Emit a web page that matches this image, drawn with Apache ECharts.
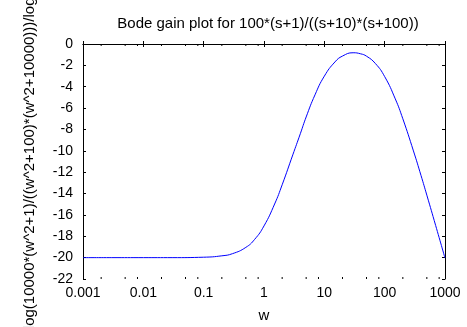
<!DOCTYPE html>
<html>
<head>
<meta charset="utf-8">
<script src="https://cdn.jsdelivr.net/npm/echarts@6/dist/echarts.min.js"></script>
<style>html,body{margin:0;padding:0;background:#fff}#c{width:467px;height:327px}</style>
</head>
<body>
<div id="c"></div>
<script>
// Frequency w (rad/s) and gain (dB)
var wVals = [0.001, 0.003, 0.01, 0.03, 0.1, 0.2, 0.3, 0.5, 0.7, 1, 1.5, 2, 3, 4, 5, 7, 10, 15, 20, 30, 40, 50, 70, 100, 150, 200, 300, 400, 500, 700, 1000];
var gainVals = [-20.0, -20.0, -20.0, -20.0, -19.96, -19.83, -19.63, -19.04, -18.29, -17.03, -14.98, -13.18, -10.38, -8.4, -6.83, -4.76, -3.01, -1.68, -1.13, -0.82, -0.92, -1.14, -1.82, -3.05, -5.14, -7.0, -10.01, -12.3, -14.15, -16.99, -20.04];
var xTicks = [0.001, 0.01, 0.1, 1, 10, 100, 1000];
var xMinorTicks = [0.002, 0.005, 0.008, 0.02, 0.05, 0.08, 0.2, 0.5, 0.8, 2, 5, 8, 20, 50, 80, 200, 500, 800];
var yMin = -22, yMax = 0, yStep = 2;
var titleText = 'Bode gain plot for 100*(s+1)/((s+10)*(s+100))';
var xName = 'w';
var yName = 'log(10000*(w^2+1)/((w^2+100)*(w^2+10000)))/log(10)';

var chart = echarts.init(document.getElementById('c'), null, {renderer: 'canvas'});
var font = 'Liberation Sans';
var axisCommon = {
  axisLine: {show: true, lineStyle: {color: '#000', width: 1}},
  axisTick: {show: true, inside: true, length: 3, lineStyle: {color: '#000', width: 1}},
  splitLine: {show: false}
};
var data = wVals.map(function (w, i) { return [w, gainVals[i]]; });
chart.setOption({
  animation: false,
  backgroundColor: '#fff',
  title: {
    text: titleText, left: 263, top: 11, textAlign: 'center',
    textStyle: {fontFamily: font, fontSize: 15, fontWeight: 'normal', color: '#000'}
  },
  graphic: [{
    type: 'text', x: 30, y: 150, rotation: Math.PI / 2, silent: true,
    style: {text: yName, fontFamily: font, fontSize: 15, fill: '#000', align: 'center', verticalAlign: 'middle'}
  }],
  grid: {left: 83, right: 22, top: 44, bottom: 48, containLabel: false, outerBoundsMode: 'none'},
  xAxis: [
    Object.assign({
      type: 'log', logBase: 10, min: 0.001, max: 1000, position: 'bottom',
      name: xName, nameLocation: 'middle', nameGap: 29,
      nameTextStyle: {fontFamily: font, fontSize: 15, color: '#000'},
      axisLabel: {fontFamily: font, fontSize: 14, color: '#000', margin: 7,
        formatter: function (v) { return String(+v); }}
    }, axisCommon),
    Object.assign({
      type: 'log', logBase: 10, min: 0.001, max: 1000, position: 'top',
      axisLabel: {show: false}
    }, axisCommon)
  ],
  yAxis: [
    Object.assign({
      type: 'value', min: yMin, max: yMax, interval: yStep, position: 'left',
      axisLabel: {fontFamily: font, fontSize: 14, color: '#000', margin: 10}
    }, axisCommon),
    Object.assign({
      type: 'value', min: yMin, max: yMax, interval: yStep, position: 'right',
      axisLabel: {show: false}
    }, axisCommon)
  ],
  series: [
    {
      type: 'line', data: data, xAxisIndex: 0, yAxisIndex: 0,
      smooth: true, showSymbol: false, symbol: 'none',
      lineStyle: {color: '#0000ff', width: 1}
    },
    {
      type: 'custom', xAxisIndex: 0, yAxisIndex: 0, silent: true,
      data: xMinorTicks.map(function (w) { return [w]; }),
      renderItem: function (params, api) {
        var b = api.coord([api.value(0), yMin]);
        var t = api.coord([api.value(0), yMax]);
        return {type: 'group', children: [
          {type: 'line', shape: {x1: b[0], y1: b[1], x2: b[0], y2: b[1] - 2}, style: {stroke: '#000', lineWidth: 1}},
          {type: 'line', shape: {x1: t[0], y1: t[1], x2: t[0], y2: t[1] + 2}, style: {stroke: '#000', lineWidth: 1}}
        ]};
      }
    }
  ]
});
</script>
</body>
</html>
